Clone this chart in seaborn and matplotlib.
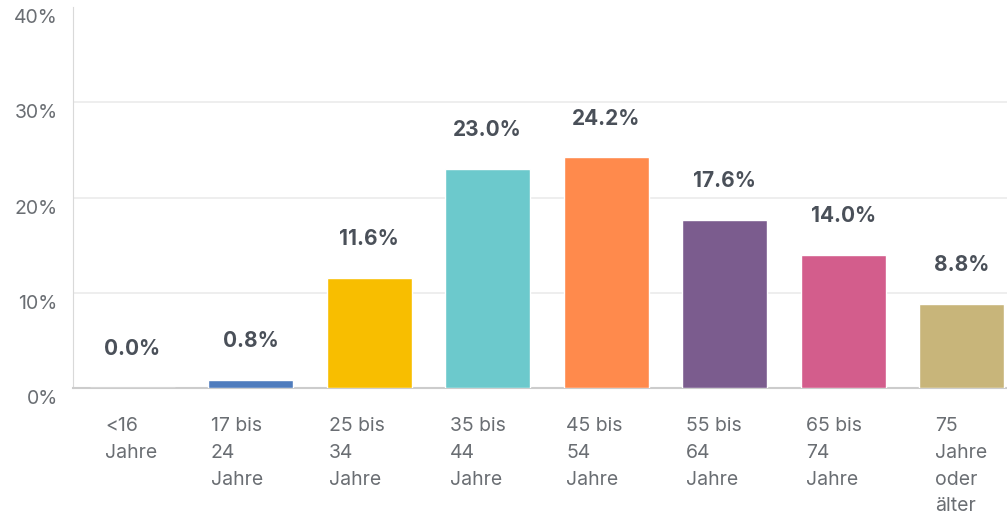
import numpy as np
import pandas as pd
import matplotlib
matplotlib.use("Agg")
import matplotlib.pyplot as plt
from matplotlib.transforms import ScaledTranslation
import seaborn as sns

# ---------------------------------------------------------------------------
# Data
# ---------------------------------------------------------------------------
age_groups = ["<16\nJahre", "17 bis\n24\nJahre", "25 bis\n34\nJahre",
              "35 bis\n44\nJahre", "45 bis\n54\nJahre", "55 bis\n64\nJahre",
              "65 bis\n74\nJahre", "75\nJahre\noder\nälter"]
shares = [0.0, 0.8, 11.6, 23.0, 24.2, 17.6, 14.0, 8.8]
bar_colors = ["#4f7cbd", "#4f7cbd", "#f8be00", "#6cc9cc", "#ff8a4c",
              "#7b5c8e", "#d35d8c", "#c8b57a"]
y_ticks = [0, 10, 20, 30, 40]

# horizontal shift (px) of each wrapped category label from its bar centre
label_shift_px = [-27, -40, -40, -38, -40, -39, -37, -27]

df = pd.DataFrame({"group": age_groups, "share": shares})

sns.set_style("white")
plt.rcParams["font.family"] = ["Inter", "DejaVu Sans"]

fig = plt.figure(figsize=(10.07, 5.15), dpi=100)
ax = fig.add_axes([73 / 1007, 127 / 515, 948 / 1007, 381 / 515])

sns.barplot(data=df, x="group", y="share", hue="group",
            palette=bar_colors, legend=False, width=0.72,
            saturation=1, ax=ax, zorder=3)

ax.set_ylim(0, 40)
ax.set_xlim(-0.5, len(age_groups) - 0.5)
ax.set_xlabel("")
ax.set_ylabel("")

# light gridlines (no line at the top)
for v in y_ticks[1:-1]:
    ax.axhline(v, color="#ebebeb", lw=1.2, zorder=0)

for side in ["top", "right"]:
    ax.spines[side].set_visible(False)
ax.spines["left"].set_color("#d9d9d9")
ax.spines["bottom"].set_color("#cccccc")
ax.spines["bottom"].set_linewidth(1.5)

# y tick labels, nudged a bit below their gridline
ax.set_yticks(y_ticks)
ax.set_yticklabels([f"{v}%" for v in y_ticks], fontsize=14, color="#6a6e73")
ax.tick_params(axis="y", length=0, pad=11)
for lab in ax.get_yticklabels():
    lab.set_transform(lab.get_transform() + ScaledTranslation(0, -0.09, fig.dpi_scale_trans))

# x tick labels, left aligned under each bar
ax.set_xticks(range(len(age_groups)))
ax.set_xticklabels(age_groups, fontsize=14, color="#6a6e73", ha="left",
                   linespacing=1.62, va="top")
ax.tick_params(axis="x", length=0, pad=21)
for lab, dx in zip(ax.get_xticklabels(), label_shift_px):
    lab.set_transform(lab.get_transform() + ScaledTranslation(dx / 100, 0, fig.dpi_scale_trans))

# value labels
for i, v in enumerate(shares):
    ax.annotate(f"{v:.1f}%", (i, v), xytext=(0, 28), textcoords="offset points",
                ha="center", va="center", fontsize=15, fontweight="bold",
                color="#4a5059")

fig.savefig("out.png", dpi=100)
